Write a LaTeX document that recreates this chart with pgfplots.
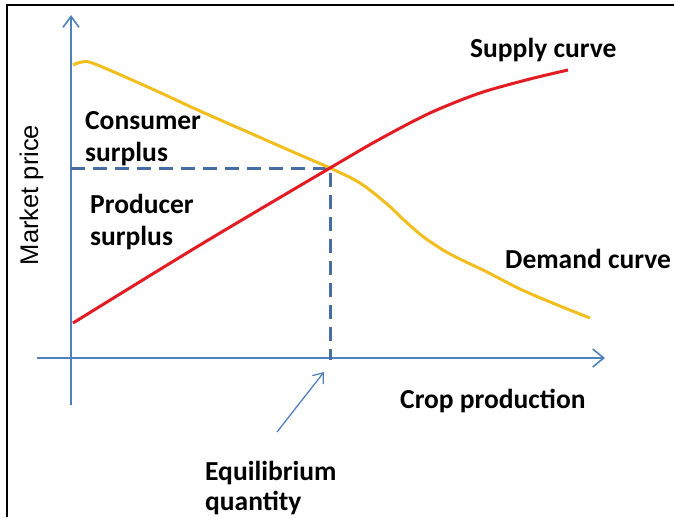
\documentclass[border=0pt]{standalone}
\usepackage{fontspec}
\setmainfont{Carlito}
\newfontfamily\arialfont{Liberation Sans}
\usepackage{pgfplots}
\pgfplotsset{compat=1.18}
\usetikzlibrary{arrows.meta}
\definecolor{axblue}{RGB}{79,129,189}
\definecolor{dashblue}{RGB}{70,110,165}
\definecolor{supred}{RGB}{226,28,34}
\definecolor{demyel}{RGB}{242,190,30}
\tikzset{lbl/.style={font=\bfseries\fontsize{27.5}{32}\selectfont, inner sep=0pt, anchor=base west}}
\begin{document}
\begin{tikzpicture}
\begin{axis}[
  x=1pt, y=1pt, y dir=reverse,
  xmin=0, xmax=674, ymin=0, ymax=517,
  scale only axis, axis lines=none, clip=false,
]
% frame
\addplot[black, line width=1.2pt] coordinates {(7,517) (7,5) (674,5)};
% axes
\addplot[axblue, line width=1.6pt, -{Straight Barb[length=11pt,width=16pt,line width=1.6pt]}] coordinates {(71,405) (71,15)};
\addplot[axblue, line width=1.6pt, -{Straight Barb[length=11pt,width=18pt,line width=1.6pt]}] coordinates {(37,358) (605,358)};
% dashed equilibrium
\addplot[dashblue, line width=3pt, dash pattern=on 14pt off 8pt] coordinates {(71,168) (330,168) (330,360)};
% demand
\addplot[demyel, line width=3pt, smooth, tension=0.55] coordinates {
 (73,65) (82,62) (95,64) (150,88) (200,111) (250,133) (300,155) (330,168)
 (360,183) (387,204) (405,221) (425,238) (450,254) (487,272)
 (520,289) (555,304) (590,318)};
% supply
\addplot[supred, line width=3pt, smooth, tension=0.5] coordinates {
 (73,323) (200,245) (330,168) (380,139) (430,113) (480,93) (530,79) (568,70)};
% equilibrium arrow
\addplot[axblue, line width=1.3pt, -{Straight Barb[length=9pt,width=14pt,line width=1.3pt]}] coordinates {(277,432) (324,372)};
% labels
\node[lbl] at (axis cs:470,57) {Supply curve};
\node[lbl] at (axis cs:85,129) {Consumer};
\node[lbl] at (axis cs:85,161) {surplus};
\node[lbl] at (axis cs:90,213) {Producer};
\node[lbl] at (axis cs:90,245) {surplus};
\node[lbl] at (axis cs:505,268) {Demand curve};
\node[lbl] at (axis cs:400,408) {Crop production};
\node[lbl] at (axis cs:205,480) {Equilibrium};
\node[lbl] at (axis cs:205,510) {quantity};
\node[anchor=base, rotate=90, inner sep=0pt, font=\arialfont\fontsize{25.5}{30}\selectfont] at (axis cs:38,195) {Market price};
\end{axis}
\pgfresetboundingbox
\path (current axis.south west) rectangle (current axis.north east);
\end{tikzpicture}
\end{document}
